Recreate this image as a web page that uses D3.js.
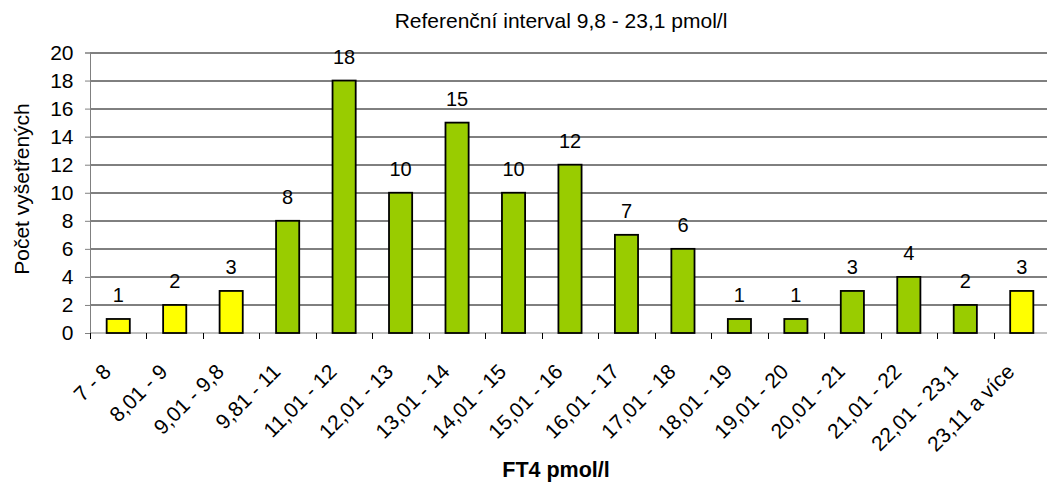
<!DOCTYPE html>
<html>
<head>
<meta charset="utf-8">
<script src="https://cdn.jsdelivr.net/npm/d3@7"></script>
<style>
  body { margin: 0; background: #fff; }
  text { font-family: "Liberation Sans", Arial, sans-serif; }
</style>
</head>
<body>
<div id="wrapper"></div>
<script>
const categories = ["7 - 8", "8,01 - 9", "9,01 - 9,8", "9,81 - 11", "11,01 - 12", "12,01 - 13",
  "13,01 - 14", "14,01 - 15", "15,01 - 16", "16,01 - 17", "17,01 - 18", "18,01 - 19",
  "19,01 - 20", "20,01 - 21", "21,01 - 22", "22,01 - 23,1", "23,11 a více"]
const counts = [1, 2, 3, 8, 18, 10, 15, 10, 12, 7, 6, 1, 1, 3, 4, 2, 3]
// inside the reference interval or not
const inRange = [false, false, false, true, true, true, true, true, true, true, true, true, true, true, true, true, false]
const yTicks = [0, 2, 4, 6, 8, 10, 12, 14, 16, 18, 20]

const data = categories.map((c, i) => ({ cat: c, value: counts[i], inRange: inRange[i] }))

const dimension = {
    width: 1047,
    height: 482,
    margin: { top: 52.5, left: 90, right: -3, bottom: 149 }
}
dimension.boundedWidth = dimension.width - dimension.margin.left - dimension.margin.right
dimension.boundedHeight = dimension.height - dimension.margin.top - dimension.margin.bottom

const svg = d3.select("#wrapper")
    .append("svg")
    .attr("width", dimension.width)
    .attr("height", dimension.height)

const bounds = svg.append("g")
    .attr("transform", `translate(${dimension.margin.left},${dimension.margin.top})`)

const x = d3.scaleBand()
    .domain(categories)
    .range([0, dimension.boundedWidth])
    .paddingInner(0.59)
    .paddingOuter(0.295)

const y = d3.scaleLinear()
    .domain([0, 20])
    .range([dimension.boundedHeight, 0])

// gridlines
bounds.append("g")
    .selectAll("line")
    .data(yTicks.filter(d => d > 0))
    .enter()
    .append("line")
    .attr("x1", 0)
    .attr("x2", dimension.boundedWidth)
    .attr("y1", d => Math.round(y(d)) + 0.5)
    .attr("y2", d => Math.round(y(d)) + 0.5)
    .attr("stroke", "#000")
    .attr("stroke-width", 1)

// y axis
const yAxis = bounds.append("g")
    .attr("font-size", 21)
    .attr("font-family", "Liberation Sans, Arial, sans-serif")
    .call(d3.axisLeft(y).tickValues(yTicks).tickSize(5).tickPadding(11.5))
yAxis.attr("font-size", 21)
yAxis.select(".domain").attr("stroke", "#808080")
yAxis.selectAll(".tick line").attr("stroke", "#808080")
yAxis.selectAll(".tick text")
    .attr("font-size", 21)
    .style("font-size", "21px")
    .attr("fill", "#000")

// x axis
const bandStep = x.step()
const xAxis = bounds.append("g")
    .attr("transform", `translate(0,${dimension.boundedHeight})`)
xAxis.append("line")
    .attr("x1", 0).attr("x2", dimension.boundedWidth)
    .attr("stroke", "#808080")
xAxis.selectAll(".sep")
    .data(d3.range(categories.length + 1))
    .enter()
    .append("line")
    .attr("class", "sep")
    .attr("x1", i => Math.round(i * bandStep) + 0.5)
    .attr("x2", i => Math.round(i * bandStep) + 0.5)
    .attr("y1", 0).attr("y2", 6)
    .attr("stroke", "#000")

xAxis.selectAll(".lbl")
    .data(categories)
    .enter()
    .append("text")
    .attr("class", "lbl")
    .attr("transform", d => `translate(${x(d) + x.bandwidth() / 2 - 6},${40}) rotate(-45)`)
    .attr("text-anchor", "end")
    .style("font-size", "21px")
    .text(d => d)

// bars
bounds.selectAll("rect.bar")
    .data(data)
    .enter()
    .append("rect")
    .attr("class", "bar")
    .attr("x", d => x(d.cat))
    .attr("y", d => y(d.value))
    .attr("width", x.bandwidth())
    .attr("height", d => y(0) - y(d.value))
    .attr("fill", d => d.inRange ? "#99CC00" : "#FFFF00")
    .attr("stroke", "#000")
    .attr("stroke-width", 1.8)

// value labels
bounds.selectAll("text.val")
    .data(data)
    .enter()
    .append("text")
    .attr("class", "val")
    .attr("x", d => x(d.cat) + x.bandwidth() / 2)
    .attr("y", d => y(d.value) - 16.5)
    .attr("text-anchor", "middle")
    .style("font-size", "20px")
    .text(d => d.value)

// titles
svg.append("text")
    .attr("x", 561)
    .attr("y", 28)
    .attr("text-anchor", "middle")
    .style("font-size", "21px")
    .text("Referenční interval 9,8 - 23,1 pmol/l")

svg.append("text")
    .attr("transform", "translate(29,189) rotate(-90)")
    .attr("text-anchor", "middle")
    .style("font-size", "21px")
    .text("Počet vyšetřených")

svg.append("text")
    .attr("x", 556)
    .attr("y", 477)
    .attr("text-anchor", "middle")
    .style("font-size", "21.5px")
    .style("font-weight", "bold")
    .text("FT4 pmol/l")
</script>
</body>
</html>
